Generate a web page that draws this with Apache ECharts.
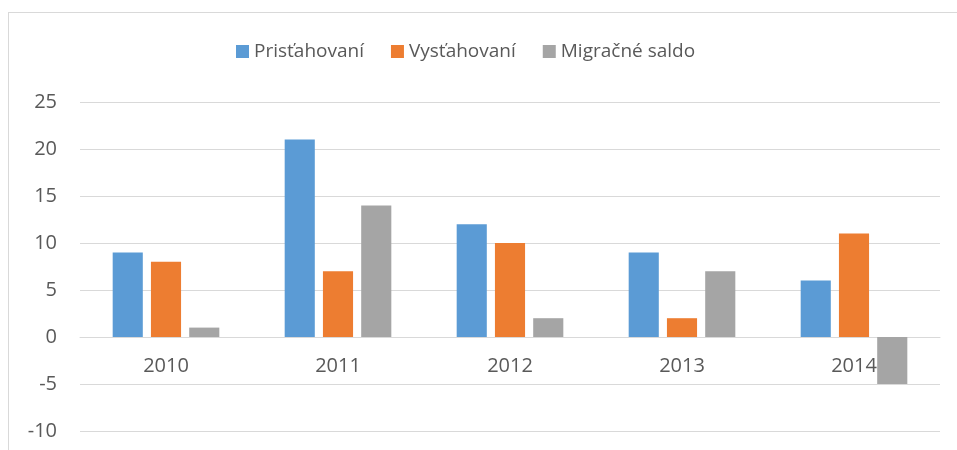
<!DOCTYPE html>
<html>
<head>
<meta charset="utf-8">
<script src="https://cdn.jsdelivr.net/npm/echarts@6/dist/echarts.min.js"></script>
<style>
  html, body { margin: 0; padding: 0; background: #fff; overflow: hidden; }
  #frame { position: absolute; left: 8px; top: 12px; width: 1000px; height: 500px; border: 1px solid #d9d9d9; }
  #chart { position: absolute; left: 0; top: 0; width: 957px; height: 450px; }
</style>
</head>
<body>
<div id="frame"></div>
<div id="chart"></div>
<script>
// roky
var years = ['2010', '2011', '2012', '2013', '2014'];
// hodnoty odčítané z grafu
var prist = [9, 21, 12, 9, 6];
var vyst = [8, 7, 10, 2, 11];
var saldo = [1, 14, 2, 7, -5];

var seriesNames = ['Prisťahovaní', 'Vysťahovaní', 'Migračné saldo'];
var colors = ['#5B9BD5', '#ED7D31', '#A5A5A5'];
var font = 'Open Sans';
var textColor = '#595959';

var yMin = -10, yMax = 25;
var gridTop = 102, gridBottom = 19;
// os x leží na nule (posun od spodku mriežky)
var zeroOffset = -(450 - gridTop - gridBottom) * (0 - yMin) / (yMax - yMin);

var chart = echarts.init(document.getElementById('chart'));

var option = {
    animation: false,
    color: colors,
    textStyle: { fontFamily: font },
    legend: {
        left: 231,
        top: 37,
        itemWidth: 13,
        itemHeight: 13,
        itemGap: 27,
        icon: 'rect',
        textStyle: { fontFamily: font, fontSize: 19, color: textColor },
        data: seriesNames
    },
    grid: {
        left: 80, right: 17, top: gridTop, bottom: gridBottom,
        containLabel: false,
        outerBoundsMode: 'none'
    },
    xAxis: {
        type: 'category',
        data: years,
        offset: zeroOffset,
        axisTick: { show: false },
        axisLine: { show: true, onZero: false, lineStyle: { color: '#d9d9d9', width: 1 } },
        axisLabel: { fontFamily: font, fontSize: 20, color: textColor, margin: 19 }
    },
    yAxis: {
        type: 'value',
        min: yMin,
        max: yMax,
        interval: 5,
        axisLine: { show: false },
        axisTick: { show: false },
        splitLine: { lineStyle: { color: '#d9d9d9', width: 1 } },
        axisLabel: { fontFamily: font, fontSize: 20, color: textColor, margin: 23 }
    },
    series: [
        { name: seriesNames[0], type: 'bar', data: prist, barGap: '27%', barCategoryGap: '38%' },
        { name: seriesNames[1], type: 'bar', data: vyst },
        { name: seriesNames[2], type: 'bar', data: saldo }
    ]
};

chart.setOption(option);
</script>
</body>
</html>
